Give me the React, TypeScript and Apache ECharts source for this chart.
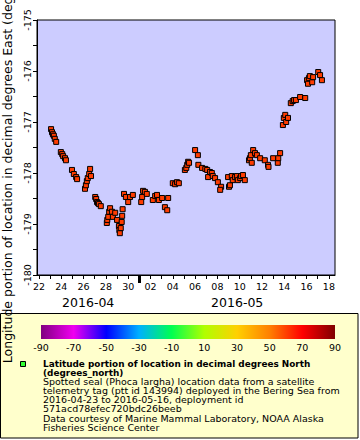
import React, { useEffect, useRef } from 'react';
import * as echarts from 'echarts';

// Track points: time (UTC) and longitude (degrees east)
const times = [
  '2016-04-23T02:00:00Z', '2016-04-23T04:00:00Z', '2016-04-23T06:00:00Z', '2016-04-23T08:00:00Z', '2016-04-23T10:00:00Z',
  '2016-04-23T13:00:00Z', '2016-04-23T23:00:00Z', '2016-04-24T02:00:00Z', '2016-04-24T04:00:00Z', '2016-04-24T08:00:00Z',
  '2016-04-24T10:00:00Z', '2016-04-24T23:00:00Z', '2016-04-25T03:00:00Z', '2016-04-25T08:00:00Z', '2016-04-25T10:00:00Z',
  '2016-04-26T03:00:00Z', '2016-04-26T05:00:00Z', '2016-04-26T07:00:00Z', '2016-04-26T09:00:00Z', '2016-04-26T12:00:00Z',
  '2016-04-26T14:00:00Z', '2016-04-26T16:00:00Z', '2016-04-27T01:00:00Z', '2016-04-27T03:00:00Z', '2016-04-27T05:00:00Z',
  '2016-04-27T07:00:00Z', '2016-04-27T09:00:00Z', '2016-04-27T13:00:00Z', '2016-04-28T02:00:00Z', '2016-04-28T03:00:00Z',
  '2016-04-28T05:00:00Z', '2016-04-28T07:00:00Z', '2016-04-28T09:00:00Z', '2016-04-28T13:00:00Z', '2016-04-28T15:00:00Z',
  '2016-04-28T20:00:00Z', '2016-04-29T00:00:00Z', '2016-04-29T04:00:00Z', '2016-04-29T05:00:00Z', '2016-04-29T06:00:00Z',
  '2016-04-29T08:00:00Z', '2016-04-29T10:00:00Z', '2016-04-29T11:00:00Z', '2016-04-29T12:00:00Z', '2016-04-29T15:00:00Z',
  '2016-04-29T19:00:00Z', '2016-04-30T00:00:00Z', '2016-04-30T04:00:00Z', '2016-04-30T10:00:00Z', '2016-05-01T04:00:00Z',
  '2016-05-01T06:00:00Z', '2016-05-01T08:00:00Z', '2016-05-01T12:00:00Z', '2016-05-01T16:00:00Z', '2016-05-02T05:00:00Z',
  '2016-05-02T10:00:00Z', '2016-05-02T14:00:00Z', '2016-05-02T18:00:00Z', '2016-05-03T01:00:00Z', '2016-05-03T07:00:00Z',
  '2016-05-03T12:00:00Z', '2016-05-03T14:00:00Z', '2016-05-04T00:00:00Z', '2016-05-04T05:00:00Z', '2016-05-04T09:00:00Z',
  '2016-05-04T13:00:00Z', '2016-05-05T02:00:00Z', '2016-05-05T05:00:00Z', '2016-05-05T07:00:00Z', '2016-05-05T09:00:00Z',
  '2016-05-05T11:00:00Z', '2016-05-06T00:00:00Z', '2016-05-06T06:00:00Z', '2016-05-06T07:00:00Z', '2016-05-06T15:00:00Z',
  '2016-05-06T22:00:00Z', '2016-05-07T02:00:00Z', '2016-05-07T04:00:00Z', '2016-05-07T08:00:00Z', '2016-05-07T12:00:00Z',
  '2016-05-07T14:00:00Z', '2016-05-07T19:00:00Z', '2016-05-08T01:00:00Z', '2016-05-08T08:00:00Z', '2016-05-08T06:00:00Z',
  '2016-05-08T23:00:00Z', '2016-05-09T01:00:00Z', '2016-05-09T03:00:00Z', '2016-05-09T07:00:00Z', '2016-05-09T09:00:00Z',
  '2016-05-09T14:00:00Z', '2016-05-09T18:00:00Z', '2016-05-09T20:00:00Z', '2016-05-10T01:00:00Z', '2016-05-10T03:00:00Z',
  '2016-05-10T07:00:00Z', '2016-05-10T11:00:00Z', '2016-05-10T20:00:00Z', '2016-05-10T22:00:00Z', '2016-05-11T00:00:00Z',
  '2016-05-11T02:00:00Z', '2016-05-11T05:00:00Z', '2016-05-11T09:00:00Z', '2016-05-11T13:00:00Z', '2016-05-11T20:00:00Z',
  '2016-05-12T06:00:00Z', '2016-05-12T13:00:00Z', '2016-05-12T14:00:00Z', '2016-05-13T00:00:00Z', '2016-05-13T10:00:00Z',
  '2016-05-13T11:00:00Z', '2016-05-13T15:00:00Z', '2016-05-13T21:00:00Z', '2016-05-13T23:00:00Z', '2016-05-14T02:00:00Z',
  '2016-05-14T04:00:00Z', '2016-05-14T08:00:00Z', '2016-05-14T14:00:00Z', '2016-05-14T18:00:00Z', '2016-05-14T21:00:00Z',
  '2016-05-15T01:00:00Z', '2016-05-15T10:00:00Z', '2016-05-15T21:00:00Z', '2016-05-16T01:00:00Z', '2016-05-16T03:00:00Z',
  '2016-05-16T05:00:00Z', '2016-05-16T07:00:00Z', '2016-05-16T12:00:00Z', '2016-05-16T14:00:00Z', '2016-05-17T01:00:00Z',
  '2016-05-17T05:00:00Z', '2016-05-17T09:00:00Z',
];
const lons = [
  -177.14, -177.2, -177.24, -177.27, -177.33,
  -177.39, -177.59, -177.63, -177.67, -177.71,
  -177.75, -177.94, -178.02, -178.08, -178.12,
  -178.31, -178.24, -178.16, -178.1, -178.02,
  -177.92, -178.06, -178.47, -178.51, -178.57,
  -178.59, -178.61, -178.65, -178.98, -178.92,
  -178.86, -178.76, -178.69, -178.76, -178.86,
  -178.78, -178.92, -179.04, -179.12, -179.18,
  -179.08, -178.96, -178.84, -178.71, -178.41,
  -178.47, -178.57, -178.47, -178.43, -178.57,
  -178.47, -178.35, -178.37, -178.41, -178.53,
  -178.45, -178.43, -178.53, -178.49, -178.67,
  -178.73, -178.49, -178.2, -178.22, -178.18,
  -178.2, -177.94, -177.9, -177.84, -177.78,
  -177.8, -177.55, -177.65, -177.84, -177.9,
  -177.92, -177.94, -178.08, -177.98, -178.0,
  -178.06, -178.1, -178.18, -178.27, -178.33,
  -178.08, -178.27, -178.24, -178.06, -178.14,
  -178.08, -178.06, -178.14, -178.1, -178.06,
  -178.04, -178.14, -177.75, -177.71, -177.65,
  -177.8, -177.55, -177.61, -177.65, -177.71,
  -177.75, -177.84, -177.88, -177.71, -177.8,
  -177.71, -177.61, -177.06, -176.92, -176.86,
  -177.0, -176.92, -176.63, -176.59, -176.57,
  -176.57, -176.51, -176.53, -176.18, -176.25,
  -176.14, -176.1, -176.22, -176.12, -176.02,
  -176.08, -176.18,
];

// Axis extents and ticks
const xMin = '2016-04-21T19:42:00Z';
const xMax = '2016-05-18T13:08:00Z';
const dayTicks = [
  '2016-04-22', '2016-04-23', '2016-04-24', '2016-04-25', '2016-04-26', '2016-04-27', '2016-04-28',
  '2016-04-29', '2016-04-30', '2016-05-01', '2016-05-02', '2016-05-03', '2016-05-04', '2016-05-05',
  '2016-05-06', '2016-05-07', '2016-05-08', '2016-05-09', '2016-05-10', '2016-05-11', '2016-05-12',
  '2016-05-13', '2016-05-14', '2016-05-15', '2016-05-16', '2016-05-17', '2016-05-18',
];
const dayLabels = [
  '2016-04-22', '2016-04-24', '2016-04-26', '2016-04-28', '2016-04-30', '2016-05-02', '2016-05-04',
  '2016-05-06', '2016-05-08', '2016-05-10', '2016-05-12', '2016-05-14', '2016-05-16', '2016-05-18',
];
const monthBoundary = ['2016-05-01'];
const monthLabelTimes = ['2016-04-26T09:51:00Z', '2016-05-09T18:34:00Z'];
const monthLabels = ['2016-04', '2016-05'];
const yMin = -180;
const yMax = -175;
const yName = 'Longitude portion of location in decimal degrees East (degrees_east)';

// Colour bar
const cbTicks = [-90, -70, -50, -30, -10, 10, 30, 50, 70, 90];
const cbColors = ['#800080', '#f000f0', '#0000ff', '#00b0ff', '#00ff50', '#b0ff00', '#ffd000', '#ff8000', '#ff0000', '#800000'];

// Legend
const legendBold = ['Latitude portion of location in decimal degrees North', '(degrees_north)'];
const legendLines = [
  'Spotted seal (Phoca largha) location data from a satellite',
  'telemetry tag (ptt id 143994) deployed in the Bering Sea from',
  '2016-04-23 to 2016-05-16, deployment id',
  '571acd78efec720bdc26beeb',
  'Data courtesy of Marine Mammal Laboratory, NOAA Alaska',
  'Fisheries Science Center',
];

const FONT = 'DejaVu Sans';
const ts = (s: string) => Date.parse(s.length === 10 ? s + 'T00:00:00Z' : s);

export default function App() {
  const ref = useRef<HTMLDivElement>(null);
  useEffect(() => {
    if (!ref.current) return;
    const chart = echarts.init(ref.current, null, { renderer: 'svg' });
    const points = times.map((t, i) => [ts(t), lons[i]]);
    const monthTs = monthLabelTimes.map(ts);
    const legendTexts: any[] = [];
    const allLines = [...legendBold, ...legendLines];
    allLines.forEach((line, i) => {
      const bold = i < legendBold.length;
      legendTexts.push({
        type: 'text',
        x: 43,
        y: 363.5 + i * 9.1,
        scaleX: bold ? 1 : 1.055,
        style: {
          text: line,
          fontFamily: FONT,
          fontSize: bold ? 8.9 : 9,
          lineHeight: 9,
          fontWeight: bold ? 'bold' : 'normal',
          fill: '#000',
          align: 'left',
          verticalAlign: 'middle',
        },
      });
    });
    const option: any = {
      animation: false,
      textStyle: { fontFamily: FONT },
      grid: [
        {
          left: 37, top: 20, width: 298, height: 255,
          show: true, backgroundColor: '#ccccff', borderColor: '#000', borderWidth: 1,
          containLabel: false, outerBoundsMode: 'none',
        },
        {
          left: 41, top: 325, width: 294, height: 14,
          show: true, borderWidth: 0, containLabel: false, outerBoundsMode: 'none',
          backgroundColor: {
            type: 'linear', x: 0, y: 0, x2: 1, y2: 0,
            colorStops: cbTicks.map((v, i) => ({ offset: (v - cbTicks[0]) / (cbTicks[cbTicks.length - 1] - cbTicks[0]), color: cbColors[i] })),
          },
        },
      ],
      xAxis: [
        {
          type: 'value', gridIndex: 0, position: 'bottom', min: ts(xMin), max: ts(xMax),
          axisLine: { show: true, onZero: false, lineStyle: { color: '#000', width: 1 } },
          axisTick: { show: true, length: 4, inside: false, customValues: dayTicks.map(ts), lineStyle: { color: '#000', width: 1 } },
          axisLabel: {
            show: true, customValues: dayLabels.map(ts), fontSize: 9.5, color: '#000', margin: 6, fontFamily: FONT,
            hideOverlap: false,
            formatter: (v: number) => String(new Date(v).getUTCDate()).padStart(2, '0'),
          },
          splitLine: { show: false },
        },
        {
          type: 'value', gridIndex: 0, position: 'bottom', min: ts(xMin), max: ts(xMax),
          axisLine: { show: false, onZero: false },
          axisTick: { show: true, length: 8, customValues: monthBoundary.map(ts), lineStyle: { color: '#000', width: 3 } },
          axisLabel: {
            show: true, customValues: monthTs, fontSize: 12.5, color: '#000', margin: 21, fontFamily: FONT,
            hideOverlap: false,
            formatter: (v: number) => {
              const i = monthTs.indexOf(v);
              return i >= 0 ? monthLabels[i] : '';
            },
          },
          splitLine: { show: false },
        },
        {
          type: 'value', gridIndex: 1, min: cbTicks[0], max: cbTicks[cbTicks.length - 1], interval: 20,
          axisLine: { show: false }, axisTick: { show: false }, splitLine: { show: false },
          axisLabel: { show: true, fontSize: 9.5, color: '#000', margin: 3, fontFamily: FONT, hideOverlap: false },
        },
      ],
      yAxis: [
        {
          type: 'value', gridIndex: 0, min: yMin, max: yMax, interval: 1,
          axisLine: { show: true, onZero: false, lineStyle: { color: '#000' } },
          axisTick: { show: true, length: 4, lineStyle: { color: '#000' } },
          minorTick: { show: true, splitNumber: 2, length: 4, lineStyle: { color: '#000' } },
          splitLine: { show: false },
          axisLabel: { rotate: 90, fontSize: 9.5, color: '#000', margin: 5, fontFamily: FONT, hideOverlap: false },
          name: yName, nameLocation: 'middle', nameRotate: 90, nameGap: 14,
          nameTextStyle: { fontSize: 12.5, color: '#000', fontFamily: FONT },
        },
        { type: 'value', gridIndex: 1, show: false },
      ],
      series: [
        {
          type: 'scatter', xAxisIndex: 0, yAxisIndex: 0, data: points,
          symbol: 'rect', symbolSize: 5,
          itemStyle: { color: '#ff3c00', borderColor: '#000', borderWidth: 1, opacity: 1 },
          emphasis: { disabled: true },
        },
      ],
      graphic: [
        {
          type: 'rect', z: -1,
          shape: { x: 0.5, y: 313.5, width: 357.5, height: 124.5 },
          style: { fill: '#ffffcc', stroke: '#000', lineWidth: 1 },
        },
        {
          type: 'rect',
          shape: { x: 20.5, y: 361.5, width: 5, height: 5 },
          style: { fill: '#33ff33', stroke: '#000', lineWidth: 1 },
        },
        ...legendTexts,
      ],
    };
    chart.setOption(option);
    return () => chart.dispose();
  }, []);
  return <div ref={ref} style={{ position: 'absolute', left: 0, top: 0, width: 360, height: 440 }} />;
}
